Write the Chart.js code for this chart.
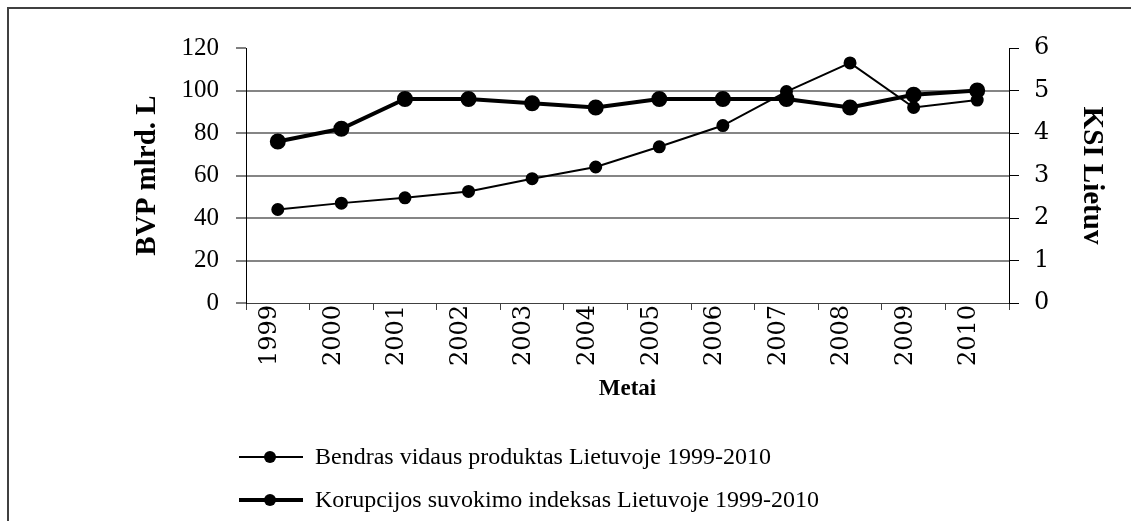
<!DOCTYPE html>
<html>
<head>
<meta charset="utf-8">
<script src="https://cdn.jsdelivr.net/npm/chart.js@4.4.1/dist/chart.umd.min.js"></script>
<style>
  body { margin: 0; background: #fff; }
  #wrap { position: relative; width: 1131px; height: 521px; overflow: hidden; }
  #frame { position: absolute; left: 7px; top: 7px; right: -4px; bottom: -4px; border-left: 2px solid #404040; border-top: 2px solid #404040; }
  #grafikas { position: absolute; left: 0; top: 0; }
  #legenda { position: absolute; left: 239px; top: 435px; font-family: "Liberation Serif", serif; font-size: 24px; color: #000; }
  .eilute { display: flex; align-items: center; height: 43px; white-space: nowrap; }
  .simbolis { position: relative; width: 64px; height: 14px; margin-right: 12px; }
  .simbolis .linija { position: absolute; left: 0; right: 0; background: #000; }
  .simbolis .taskas { position: absolute; left: 25px; top: 1px; width: 12px; height: 12px; border-radius: 50%; background: #000; }
</style>
</head>
<body>
<div id="wrap">
  <div id="frame"></div>
  <canvas id="grafikas" width="1131" height="521"></canvas>
  <div id="legenda"></div>
</div>
<script>
// duomenys
const metai = ['1999', '2000', '2001', '2002', '2003', '2004', '2005', '2006', '2007', '2008', '2009', '2010'];
const bvp = [44, 47, 49.5, 52.5, 58.5, 64, 73.5, 83.5, 99.5, 113, 92, 95.5]; // mlrd. Lt
const ksi = [3.8, 4.1, 4.8, 4.8, 4.7, 4.6, 4.8, 4.8, 4.8, 4.6, 4.9, 5.0];
const bvpPavadinimas = 'Bendras vidaus produktas Lietuvoje 1999-2010';
const ksiPavadinimas = 'Korupcijos suvokimo indeksas Lietuvoje 1999-2010';
const kairesAsis = { min: 0, max: 120, step: 20 };
const desinesAsis = { min: 0, max: 6, step: 1 };

const serif = '"Liberation Serif", "Times New Roman", serif';
const dejavu = '"DejaVu Serif", serif';

const ctx = document.getElementById('grafikas');
const chart = new Chart(ctx, {
    type: 'line',
    data: {
        labels: metai,
        datasets: [{
            label: bvpPavadinimas,
            data: bvp,
            yAxisID: 'y',
            borderColor: '#000',
            backgroundColor: '#000',
            borderWidth: 2,
            pointRadius: 5.5,
            pointBackgroundColor: '#000',
            pointBorderColor: '#000',
            tension: 0
        }, {
            label: ksiPavadinimas,
            data: ksi,
            yAxisID: 'y1',
            borderColor: '#000',
            backgroundColor: '#000',
            borderWidth: 4,
            pointRadius: 6,
            pointBackgroundColor: '#000',
            pointBorderColor: '#000',
            tension: 0
        }]
    },
    options: {
        responsive: false,
        animation: false,
        layout: { padding: { top: 48, left: 0, right: 0, bottom: 0 } },
        plugins: {
            legend: { display: false },
            tooltip: { enabled: false }
        },
        scales: {
            x: {
                offset: true,
                grid: { offset: true, drawOnChartArea: false, tickLength: 7, color: '#404040', tickWidth: 1 },
                border: { color: '#404040', width: 1 },
                ticks: {
                    autoSkip: false,
                    minRotation: 90,
                    maxRotation: 90,
                    padding: -5,
                    labelOffset: -8,
                    color: '#000',
                    font: { family: dejavu, size: 24 }
                },
                title: {
                    display: true,
                    text: 'Metai',
                    color: '#000',
                    font: { family: serif, size: 23, weight: 'bold' },
                    padding: { top: 0, bottom: 118 }
                },
                afterFit: (s) => { s.height = 218; }
            },
            y: {
                position: 'left',
                min: kairesAsis.min,
                max: kairesAsis.max,
                ticks: {
                    stepSize: kairesAsis.step,
                    padding: 17,
                    color: '#000',
                    font: { family: serif, size: 25 }
                },
                grid: {
                    // be linijos ties 0 ir viršuje
                    color: (c) => (c.tick && (c.tick.value === kairesAsis.max || c.tick.value === 0)) ? 'rgba(0,0,0,0)' : '#858585',
                    lineWidth: 2,
                    tickLength: 10,
                    tickColor: '#000',
                    tickWidth: 1
                },
                border: { color: '#000', width: 1 },
                title: {
                    display: true,
                    text: 'BVP mlrd. L',
                    color: '#000',
                    font: { family: serif, size: 29, weight: 'bold' },
                    padding: { top: 130, bottom: 0 }
                },
                afterFit: (s) => { s.width = 246; }
            },
            y1: {
                position: 'right',
                min: desinesAsis.min,
                max: desinesAsis.max,
                ticks: {
                    stepSize: desinesAsis.step,
                    padding: 15,
                    color: '#000',
                    font: { family: dejavu, size: 24 }
                },
                grid: { drawOnChartArea: false, tickLength: 10, color: '#000', tickWidth: 1 },
                border: { color: '#000', width: 1 },
                title: {
                    display: true,
                    text: 'KSI Lietuv',
                    color: '#000',
                    font: { family: serif, size: 29, weight: 'bold' },
                    padding: { top: 22, bottom: 0 }
                },
                afterFit: (s) => { s.width = 122; }
            }
        }
    }
});

// legenda HTML
const legenda = document.getElementById('legenda');
chart.data.datasets.forEach((ds) => {
    const eil = document.createElement('div');
    eil.className = 'eilute';
    const sim = document.createElement('div');
    sim.className = 'simbolis';
    const lin = document.createElement('div');
    lin.className = 'linija';
    lin.style.height = ds.borderWidth + 'px';
    lin.style.top = (7 - ds.borderWidth / 2) + 'px';
    const tsk = document.createElement('div');
    tsk.className = 'taskas';
    sim.appendChild(lin);
    sim.appendChild(tsk);
    const txt = document.createElement('span');
    txt.textContent = ds.label;
    eil.appendChild(sim);
    eil.appendChild(txt);
    legenda.appendChild(eil);
});
</script>
</body>
</html>
